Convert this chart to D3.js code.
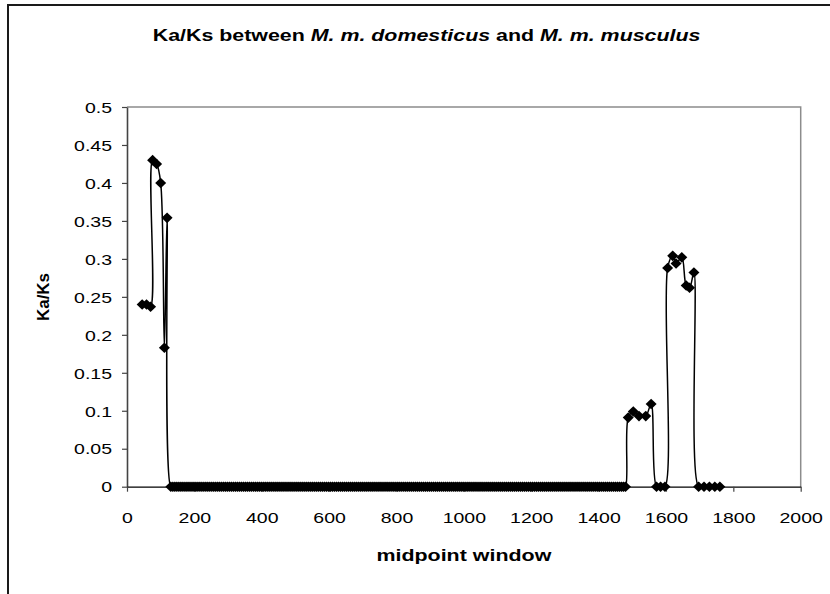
<!DOCTYPE html>
<html>
<head>
<meta charset="utf-8">
<script src="https://cdn.jsdelivr.net/npm/d3@7"></script>
<style>
  html, body { margin: 0; padding: 0; background: #fff; }
  svg { display: block; }
  text { font-family: "Liberation Sans", Arial, sans-serif; fill: #000; }
</style>
</head>
<body>
<svg id="chart" width="830" height="594"></svg>
<script>
// ---- data ----
const midpoint = [
  45, 58, 70, 76, 88, 100, 111, 119,
  130, 136, 142, 148, 154, 160, 166, 172, 178, 184, 190, 196, 202, 208, 214,
  220, 226, 232, 238, 244, 250, 256, 262, 268, 274, 280, 286, 292, 298, 304,
  310, 316, 322, 328, 334, 340, 346, 352, 358, 364, 370, 376, 382, 388, 394,
  400, 406, 412, 418, 424, 430, 436, 442, 448, 454, 460, 466, 472, 478, 484,
  490, 496, 502, 508, 514, 520, 526, 532, 538, 544, 550, 556, 562, 568, 574,
  580, 586, 592, 598, 604, 610, 616, 622, 628, 634, 640, 646, 652, 658, 664,
  670, 676, 682, 688, 694, 700, 706, 712, 718, 724, 730, 736, 742, 748, 754,
  760, 766, 772, 778, 784, 790, 796, 802, 808, 814, 820, 826, 832, 838, 844,
  850, 856, 862, 868, 874, 880, 886, 892, 898, 904, 910, 916, 922, 928, 934,
  940, 946, 952, 958, 964, 970, 976, 982, 988, 994, 1000, 1006, 1012, 1018, 1024,
  1030, 1036, 1042, 1048, 1054, 1060, 1066, 1072, 1078, 1084, 1090, 1096, 1102, 1108, 1114,
  1120, 1126, 1132, 1138, 1144, 1150, 1156, 1162, 1168, 1174, 1180, 1186, 1192, 1198, 1204,
  1210, 1216, 1222, 1228, 1234, 1240, 1246, 1252, 1258, 1264, 1270, 1276, 1282, 1288, 1294,
  1300, 1306, 1312, 1318, 1324, 1330, 1336, 1342, 1348, 1354, 1360, 1366, 1372, 1378, 1384,
  1390, 1396, 1402, 1408, 1414, 1420, 1426, 1432, 1438, 1444, 1450, 1456, 1462, 1468, 1474,
  1480,
  1488, 1503, 1520, 1540, 1556,
  1572, 1584, 1597,
  1605, 1620, 1630, 1647, 1660, 1670, 1683,
  1697, 1713, 1729, 1745, 1760
];
const kaks = [
  0.240, 0.240, 0.237, 0.430, 0.425, 0.400, 0.183, 0.354,
  0, 0, 0, 0, 0, 0, 0, 0, 0, 0, 0, 0, 0, 0, 0,
  0, 0, 0, 0, 0, 0, 0, 0, 0, 0, 0, 0, 0, 0, 0,
  0, 0, 0, 0, 0, 0, 0, 0, 0, 0, 0, 0, 0, 0, 0,
  0, 0, 0, 0, 0, 0, 0, 0, 0, 0, 0, 0, 0, 0, 0,
  0, 0, 0, 0, 0, 0, 0, 0, 0, 0, 0, 0, 0, 0, 0,
  0, 0, 0, 0, 0, 0, 0, 0, 0, 0, 0, 0, 0, 0, 0,
  0, 0, 0, 0, 0, 0, 0, 0, 0, 0, 0, 0, 0, 0, 0,
  0, 0, 0, 0, 0, 0, 0, 0, 0, 0, 0, 0, 0, 0, 0,
  0, 0, 0, 0, 0, 0, 0, 0, 0, 0, 0, 0, 0, 0, 0,
  0, 0, 0, 0, 0, 0, 0, 0, 0, 0, 0, 0, 0, 0, 0,
  0, 0, 0, 0, 0, 0, 0, 0, 0, 0, 0, 0, 0, 0, 0,
  0, 0, 0, 0, 0, 0, 0, 0, 0, 0, 0, 0, 0, 0, 0,
  0, 0, 0, 0, 0, 0, 0, 0, 0, 0, 0, 0, 0, 0, 0,
  0, 0, 0, 0, 0, 0, 0, 0, 0, 0, 0, 0, 0, 0, 0,
  0, 0, 0, 0, 0, 0, 0, 0, 0, 0, 0, 0, 0, 0, 0,
  0,
  0.091, 0.099, 0.093, 0.093, 0.109,
  0, 0, 0,
  0.288, 0.304, 0.294, 0.302, 0.265, 0.262, 0.282,
  0, 0, 0, 0, 0
];
const xTickValues = [0, 200, 400, 600, 800, 1000, 1200, 1400, 1600, 1800, 2000];
const xTickLabels = ["0", "200", "400", "600", "800", "1000", "1200", "1400", "1600", "1800", "2000"];
const yTickValues = [0, 0.05, 0.1, 0.15, 0.2, 0.25, 0.3, 0.35, 0.4, 0.45, 0.5];
const yTickLabels = ["0", "0.05", "0.1", "0.15", "0.2", "0.25", "0.3", "0.35", "0.4", "0.45", "0.5"];
const titleParts = [
  { text: "Ka/Ks between ", italic: false },
  { text: "M. m. domesticus", italic: true },
  { text: " and ", italic: false },
  { text: "M. m. musculus", italic: true }
];
const xTitle = "midpoint window";
const yTitle = "Ka/Ks";

// ---- layout ----
const svg = d3.select("#chart");
const plot = { left: 127, right: 800.7, top: 107, bottom: 486.7 };
const x = d3.scaleLinear().domain([0, 2000]).range([plot.left, plot.right]);
const y = d3.scaleLinear().domain([0, 0.5]).range([plot.bottom, plot.top]);
const stretch = 1.3;

svg.append("rect").attr("width", 830).attr("height", 594).attr("fill", "#fff");

// chart frame (left + top)
svg.append("path")
  .attr("d", "M8,594 V5 H830")
  .attr("fill", "none").attr("stroke", "#1a1a1a").attr("stroke-width", 2);

// plot area border top/right (gray)
svg.append("path")
  .attr("d", `M${plot.left},${plot.top} H${plot.right} V${plot.bottom}`)
  .attr("fill", "none").attr("stroke", "#8c8c8c").attr("stroke-width", 1.5);

// y axis
const yAxis = svg.append("g")
  .attr("transform", `translate(${plot.left},0)`)
  .call(d3.axisLeft(y).tickValues(yTickValues).tickSize(5).tickSizeOuter(0)
    .tickFormat((d, i) => yTickLabels[i]));
yAxis.select(".domain").attr("stroke", "#444").attr("stroke-width", 1.6);
yAxis.selectAll(".tick line").attr("stroke", "#444").attr("stroke-width", 1.2);
yAxis.selectAll(".tick text")
  .attr("x", null).attr("dy", "0.35em")
  .attr("font-size", 15).attr("font-family", "Liberation Sans, Arial, sans-serif")
  .attr("fill", "#000")
  .attr("transform", `translate(-15,0) scale(${stretch},1)`);

// x axis
const xAxis = svg.append("g")
  .attr("transform", `translate(0,${plot.bottom})`)
  .call(d3.axisBottom(x).tickValues(xTickValues).tickSize(5).tickSizeOuter(0)
    .tickFormat((d, i) => xTickLabels[i]));
xAxis.select(".domain").attr("stroke", "#000").attr("stroke-width", 1.2);
xAxis.selectAll(".tick line").attr("stroke", "#444").attr("stroke-width", 1.2);
xAxis.selectAll(".tick text")
  .attr("y", null).attr("dy", null)
  .attr("font-size", 15).attr("font-family", "Liberation Sans, Arial, sans-serif")
  .attr("fill", "#000")
  .attr("transform", `translate(0,36) scale(${stretch},1)`);

// series
const points = midpoint.map((m, i) => ({ x: m, y: kaks[i] }));
const line = d3.line()
  .x(d => x(d.x)).y(d => y(d.y))
  .curve(d3.curveCatmullRom.alpha(0.5));
svg.append("path")
  .datum(points)
  .attr("d", line)
  .attr("fill", "none").attr("stroke", "#000").attr("stroke-width", 1.5);

const diamond = "M0,-5.3L5.5,0L0,5.3L-5.5,0Z";
svg.append("g").selectAll("path")
  .data(points)
  .join("path")
  .attr("d", diamond)
  .attr("transform", d => `translate(${x(d.x)},${y(d.y)})`)
  .attr("fill", "#000");

// helper: fit text horizontally to target width
function fit(sel, target) {
  const w = sel.node().getComputedTextLength();
  return target / w;
}

// title
const title = svg.append("text")
  .attr("font-size", 16.5).attr("font-weight", "bold")
  .attr("text-anchor", "start");
titleParts.forEach(p => {
  title.append("tspan").text(p.text).attr("font-style", p.italic ? "italic" : "normal");
});
const tsx = fit(title, 548);
title.attr("transform", `translate(152.7,41) scale(${tsx},1)`);

// x axis title
const xt = svg.append("text")
  .attr("font-size", 16).attr("font-weight", "bold")
  .attr("text-anchor", "middle").text(xTitle);
const xsx = fit(xt, 175);
xt.attr("transform", `translate(${(plot.left + plot.right) / 2},561) scale(${xsx},1)`);

// y axis title
const yt = svg.append("text")
  .attr("font-size", 16).attr("font-weight", "bold")
  .attr("text-anchor", "middle").text(yTitle);
const ysx = fit(yt, 48);
yt.attr("transform", `translate(49,297) rotate(-90) scale(${ysx},1)`);
</script>
</body>
</html>
